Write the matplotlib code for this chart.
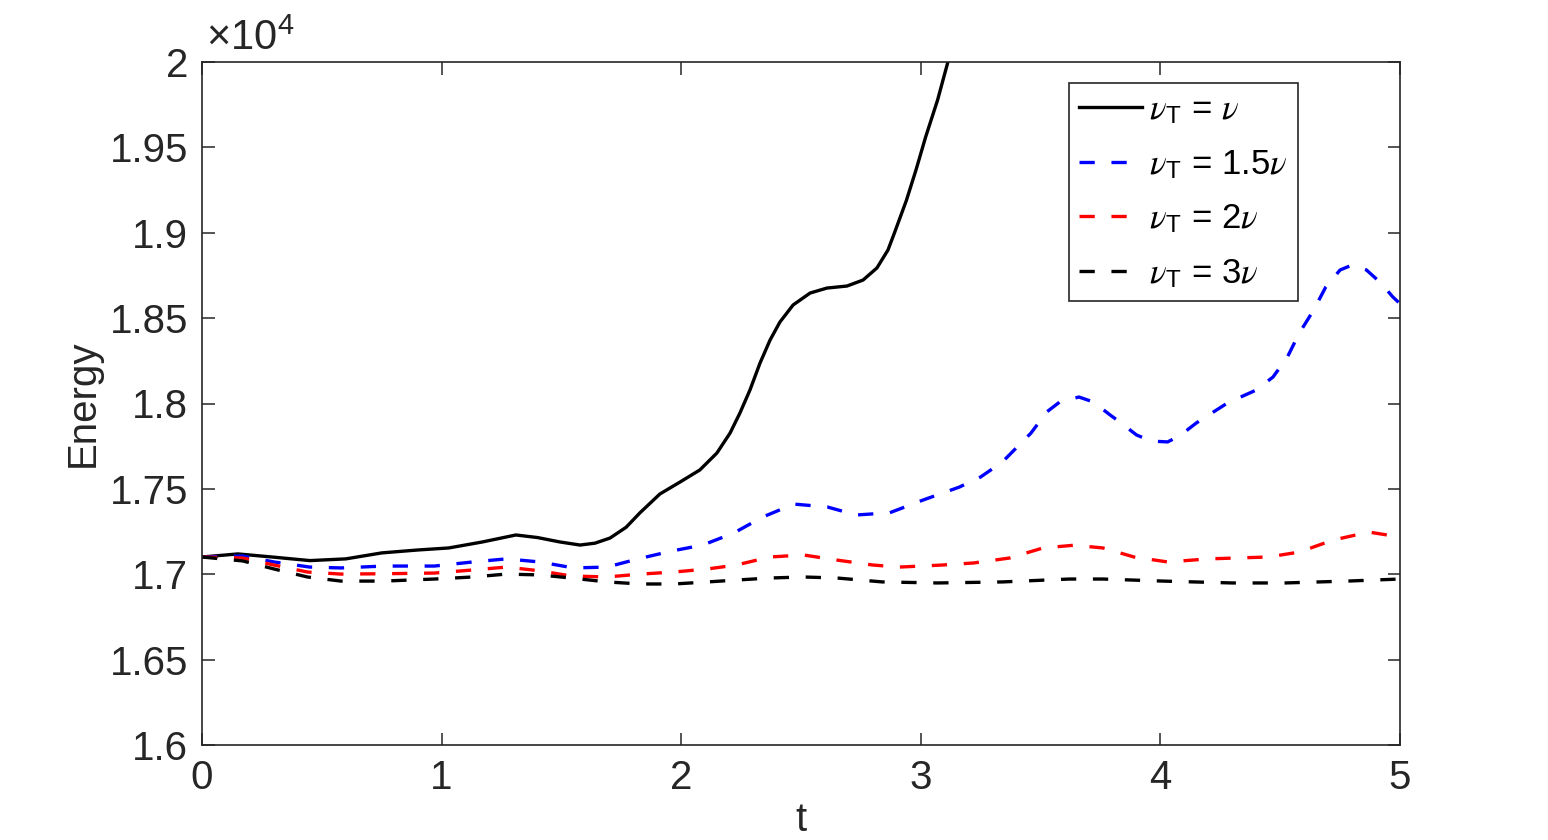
import matplotlib
matplotlib.use("Agg")
import matplotlib.pyplot as plt
from matplotlib.ticker import FuncFormatter, FixedLocator

plt.rcParams['font.family'] = ['Liberation Sans', 'DejaVu Sans']
plt.rcParams['mathtext.fontset'] = 'custom'
plt.rcParams['mathtext.rm'] = 'Liberation Sans'
plt.rcParams['mathtext.it'] = 'STIXGeneral:italic'
plt.rcParams['mathtext.bf'] = 'Liberation Sans:bold'
plt.rcParams['lines.scale_dashes'] = False

# ---- data (Energy in units of 1e4) ----
t_nu1 = [0.00, 0.15, 0.30, 0.45, 0.60, 0.75, 0.90, 1.03, 1.17, 1.31, 1.40, 1.494, 1.578,
         1.64, 1.703, 1.77, 1.828, 1.911, 1.995, 2.078, 2.149, 2.204, 2.245, 2.287, 2.329,
         2.371, 2.412, 2.467, 2.538, 2.608, 2.692, 2.759, 2.817, 2.863, 2.89, 2.94, 2.98,
         3.02, 3.07, 3.115]
e_nu1 = [1.7101, 1.7119, 1.7100, 1.7080, 1.7090, 1.7125, 1.7142, 1.7154, 1.7189, 1.7230,
         1.7215, 1.7189, 1.7171, 1.7182, 1.7212, 1.7275, 1.7360, 1.7470, 1.7540, 1.7611,
         1.7710, 1.7827, 1.7944, 1.8079, 1.8237, 1.8372, 1.8477, 1.8577, 1.8647, 1.8676,
         1.8688, 1.8723, 1.8794, 1.8899, 1.8999, 1.9190, 1.9368, 1.9560, 1.9777, 2.0010]

t_nu15 = [0.00, 0.17, 0.30, 0.45, 0.58, 0.76, 0.97, 1.13, 1.27, 1.41, 1.55, 1.69, 1.82,
          1.96, 2.09, 2.22, 2.34, 2.47, 2.61, 2.73, 2.87, 3.01, 3.16, 3.25, 3.34, 3.46,
          3.525, 3.58, 3.66, 3.72, 3.79, 3.83, 3.90, 3.96, 4.03, 4.08, 4.15, 4.28, 4.40,
          4.47, 4.53, 4.58, 4.64, 4.69, 4.75, 4.80, 4.86, 4.92, 4.97, 5.00]
e_nu15 = [1.7101, 1.7107, 1.7072, 1.7042, 1.7037, 1.7048, 1.7048, 1.7072, 1.7090, 1.7072,
          1.7037, 1.7042, 1.7090, 1.7136, 1.7171, 1.7242, 1.7335, 1.7411, 1.7394, 1.7347,
          1.7360, 1.7435, 1.7510, 1.7570, 1.7657, 1.7827, 1.7950, 1.8009, 1.8038, 1.8009,
          1.7933, 1.7892, 1.7816, 1.7780, 1.7775, 1.7810, 1.7886, 1.8003, 1.8079, 1.8155,
          1.8272, 1.8413, 1.8548, 1.8682, 1.8782, 1.8811, 1.8782, 1.8706, 1.8624, 1.8585]

t_nu2 = [0.00, 0.17, 0.30, 0.44, 0.58, 0.76, 0.97, 1.13, 1.27, 1.41, 1.54, 1.69, 1.83,
         1.97, 2.11, 2.23, 2.37, 2.51, 2.65, 2.80, 2.91, 3.09, 3.22, 3.37, 3.51, 3.64,
         3.76, 3.89, 4.03, 4.20, 4.45, 4.58, 4.72, 4.87, 5.00]
e_nu2 = [1.7101, 1.7095, 1.7054, 1.7013, 1.7001, 1.7003, 1.7007, 1.7025, 1.7042, 1.7020,
         1.6990, 1.6984, 1.7001, 1.7013, 1.7031, 1.7054, 1.7101, 1.7113, 1.7083, 1.7054,
         1.7042, 1.7054, 1.7066, 1.7095, 1.7154, 1.7170, 1.7154, 1.7101, 1.7072, 1.7090,
         1.7101, 1.7130, 1.7200, 1.7247, 1.7218]

t_nu3 = [0.00, 0.17, 0.30, 0.44, 0.58, 0.76, 0.97, 1.13, 1.27, 1.41, 1.54, 1.69, 1.83,
         1.97, 2.11, 2.23, 2.37, 2.51, 2.65, 2.84, 3.07, 3.34, 3.62, 3.76, 4.01, 4.30,
         4.52, 4.78, 5.00]
e_nu3 = [1.7101, 1.7078, 1.7031, 1.6984, 1.6960, 1.6960, 1.6972, 1.6984, 1.7001, 1.6996,
         1.6978, 1.6955, 1.6943, 1.6943, 1.6955, 1.6966, 1.6978, 1.6984, 1.6978, 1.6955,
         1.6949, 1.6955, 1.6972, 1.6972, 1.6960, 1.6949, 1.6949, 1.6960, 1.6972]

labels = [r'$\nu_{\mathrm{T}}$ = $\nu$', r'$\nu_{\mathrm{T}}$ = 1.5$\nu$',
          r'$\nu_{\mathrm{T}}$ = 2$\nu$', r'$\nu_{\mathrm{T}}$ = 3$\nu$']
x_ticks = [0, 1, 2, 3, 4, 5]
y_ticks = [1.6, 1.65, 1.7, 1.75, 1.8, 1.85, 1.9, 1.95, 2.0]

# ---- figure ----
fig = plt.figure(figsize=(15.48, 8.4), dpi=100)
ax = fig.add_axes([202/1548, 95/840, 1198/1548, 683/840])

lw = 2.4
dash = (11.0, 12.0)
ax.plot(t_nu1, e_nu1, color='black', lw=lw, label=labels[0])
ax.plot(t_nu15, e_nu15, color='#0000ff', lw=lw, dashes=dash, label=labels[1])
ax.plot(t_nu2, e_nu2, color='#ff0000', lw=lw, dashes=dash, label=labels[2])
ax.plot(t_nu3, e_nu3, color='black', lw=lw, dashes=dash, label=labels[3])

ax.set_xlim(0, 5)
ax.set_ylim(1.6, 2.0)
ax.xaxis.set_major_locator(FixedLocator(x_ticks))
ax.yaxis.set_major_locator(FixedLocator(y_ticks))
ax.yaxis.set_major_formatter(FuncFormatter(lambda v, p: ('%g' % round(v, 3))))

tc = '#262626'
for s in ax.spines.values():
    s.set_color(tc)
    s.set_linewidth(1.2)
ax.tick_params(direction='in', length=9, width=1.1, colors=tc, labelsize=29,
               top=True, right=True, pad=10)
for lab in ax.get_xticklabels() + ax.get_yticklabels():
    lab.set_color(tc)

ax.set_xlabel('t', fontsize=29, color=tc, labelpad=3)
ax.set_ylabel('Energy', fontsize=29, color=tc, labelpad=6)
ax.text(0.003, 1.004, r'$\times$10$^{4}$', transform=ax.transAxes, fontsize=30,
        color=tc, ha='left', va='bottom')

leg = ax.legend(loc='upper right', bbox_to_anchor=(0.915, 0.969), fontsize=25,
                fancybox=False, framealpha=1, edgecolor=tc, handlelength=1.82,
                handletextpad=0.2, labelspacing=0.62, borderpad=0.3,
                borderaxespad=0.0)
leg.get_frame().set_linewidth(1.2)

fig.savefig('out.png', dpi=100)
